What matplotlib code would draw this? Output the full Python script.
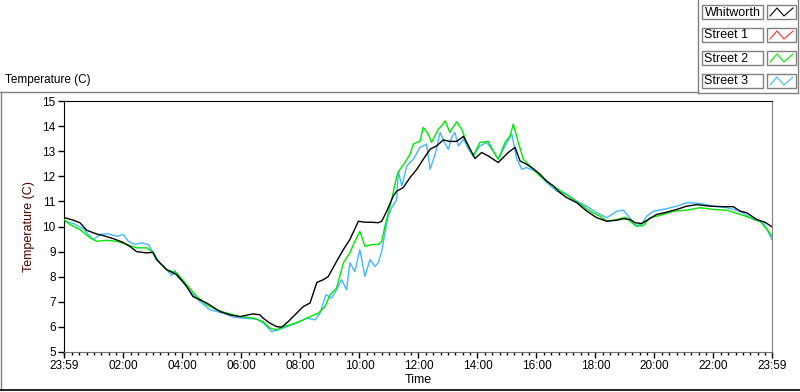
import matplotlib
matplotlib.use("Agg")
import matplotlib.pyplot as plt
from matplotlib.lines import Line2D
from matplotlib.patches import Rectangle
import numpy as np

plt.rcParams['font.family'] = ['Liberation Sans', 'DejaVu Sans']

# hours since 23:59 the day before, temperature in C
whit_h = [0, 0.32, 0.54, 0.77, 1.11, 1.32, 1.66, 2.0, 2.24, 2.46, 2.8, 3.02, 3.14, 3.48, 3.82,
          4.16, 4.37, 4.84, 5.29, 5.63, 5.97, 6.41, 6.64, 6.75, 6.98, 7.21, 7.38, 7.6, 7.83,
          8.11, 8.34, 8.57, 8.79, 8.96, 9.24, 9.47, 9.69, 9.98, 10.2, 10.43, 10.65, 10.77,
          10.94, 11.16, 11.28, 11.5, 11.73, 11.96, 12.18, 12.41, 12.63, 12.86, 13.08, 13.31,
          13.54, 13.71, 13.93, 14.16, 14.38, 14.72, 14.89, 15.06, 15.29, 15.46, 15.68, 15.91,
          16.14, 16.36, 16.59, 16.81, 17.04, 17.38, 17.72, 18.06, 18.4, 18.74, 18.96, 19.19,
          19.36, 19.58, 19.81, 20.09, 20.43, 20.77, 21.11, 21.45, 21.9, 22.35, 22.69, 22.92,
          23.14, 23.48, 23.76, 24.0]
whit_t = [10.36, 10.25, 10.15, 9.85, 9.7, 9.64, 9.52, 9.37, 9.2, 9.0, 8.95, 8.97, 8.68, 8.28,
          8.08, 7.61, 7.21, 6.95, 6.61, 6.48, 6.41, 6.52, 6.48, 6.35, 6.15, 6.01, 5.99, 6.21,
          6.48, 6.81, 6.95, 7.77, 7.88, 8.01, 8.61, 9.08, 9.48, 10.21, 10.17, 10.17, 10.15,
          10.21, 10.61, 11.21, 11.41, 11.55, 11.95, 12.28, 12.68, 13.08, 13.21, 13.45, 13.39,
          13.39, 13.59, 13.21, 12.71, 12.95, 12.81, 12.55, 12.75, 12.95, 13.15, 12.61, 12.48,
          12.3, 12.08, 11.81, 11.61, 11.35, 11.15, 10.95, 10.61, 10.35, 10.21, 10.25, 10.31,
          10.28, 10.15, 10.12, 10.28, 10.48, 10.57, 10.68, 10.81, 10.87, 10.81, 10.79, 10.79,
          10.61, 10.55, 10.28, 10.17, 9.99]

street1_h = []
street1_t = []

street2_h = [0, 0.2, 0.54, 0.88, 1.11, 1.45, 1.79, 2.13, 2.46, 2.8, 2.97, 3.14, 3.48, 3.82,
             4.16, 4.5, 4.84, 5.18, 5.52, 5.97, 6.41, 6.75, 6.98, 7.21, 7.43, 7.77, 8.11, 8.4,
             8.62, 8.85, 9.02, 9.24, 9.47, 9.69, 9.86, 10.03, 10.2, 10.43, 10.65, 10.77, 10.88,
             11.05, 11.16, 11.28, 11.39, 11.56, 11.73, 11.84, 12.07, 12.18, 12.35, 12.46, 12.69,
             12.8, 12.92, 13.08, 13.31, 13.48, 13.65, 13.87, 14.1, 14.38, 14.55, 14.72, 14.95,
             15.12, 15.23, 15.4, 15.57, 15.8, 16.14, 16.59, 16.93, 17.27, 17.6, 17.83, 18.17,
             18.4, 18.74, 19.02, 19.19, 19.41, 19.64, 19.86, 20.2, 20.65, 21.11, 21.56, 22.01,
             22.46, 22.92, 23.25, 23.59, 23.88, 24.0]
street2_t = [10.28, 10.08, 9.88, 9.55, 9.41, 9.45, 9.41, 9.28, 9.15, 9.15, 9.01, 8.68, 8.28,
             8.15, 7.68, 7.21, 6.88, 6.68, 6.55, 6.41, 6.35, 6.21, 5.95, 5.88, 6.01, 6.12, 6.28,
             6.44, 6.55, 6.81, 7.28, 7.55, 8.55, 8.95, 9.41, 9.81, 9.21, 9.28, 9.28, 9.41, 10.01,
             10.81, 11.35, 12.01, 12.28, 12.55, 12.88, 13.28, 13.41, 13.95, 13.68, 13.35, 13.88,
             14.01, 14.21, 13.75, 14.17, 13.88, 13.35, 12.81, 13.35, 13.39, 13.01, 12.68, 13.35,
             13.61, 14.08, 13.35, 12.68, 12.41, 12.01, 11.61, 11.35, 11.08, 10.81, 10.61, 10.41,
             10.21, 10.28, 10.37, 10.21, 10.01, 10.04, 10.35, 10.44, 10.61, 10.65, 10.75, 10.68,
             10.65, 10.48, 10.35, 10.21, 9.81, 9.61]

street3_h = [0, 0.32, 0.65, 0.99, 1.22, 1.5, 1.79, 2.01, 2.18, 2.41, 2.63, 2.86, 3.03, 3.25,
             3.48, 3.65, 3.76, 3.86, 4.04, 4.27, 4.61, 4.95, 5.4, 5.74, 6.08, 6.53, 6.76, 7.04,
             7.26, 7.55, 7.89, 8.23, 8.51, 8.68, 8.88, 9.07, 9.24, 9.41, 9.58, 9.69, 9.86, 10.03,
             10.2, 10.37, 10.54, 10.65, 10.77, 10.88, 10.99, 11.11, 11.28, 11.33, 11.45, 11.62,
             11.84, 12.07, 12.29, 12.41, 12.58, 12.75, 12.92, 13.03, 13.14, 13.25, 13.37, 13.54,
             13.71, 13.87, 14.1, 14.33, 14.5, 14.72, 14.95, 15.18, 15.35, 15.52, 15.68, 15.97,
             16.14, 16.36, 16.7, 17.04, 17.38, 17.72, 18.06, 18.4, 18.74, 18.96, 19.13, 19.36,
             19.58, 19.75, 19.98, 20.43, 20.77, 21.11, 21.56, 22.01, 22.46, 22.92, 23.37, 23.71,
             24.0]
street3_t = [10.21, 10.12, 9.91, 9.48, 9.68, 9.71, 9.61, 9.68, 9.41, 9.28, 9.35, 9.28, 8.95,
             8.55, 8.28, 8.04, 8.25, 7.98, 7.81, 7.41, 7.01, 6.68, 6.55, 6.39, 6.35, 6.31, 6.15,
             5.81, 5.88, 6.01, 6.15, 6.35, 6.28, 6.55, 7.28, 7.15, 7.48, 7.88, 7.48, 8.55, 8.21,
             9.08, 8.01, 8.68, 8.41, 8.55, 9.01, 9.75, 10.41, 10.75, 11.08, 12.21, 11.61, 12.41,
             12.68, 13.15, 13.28, 12.28, 12.88, 13.75, 13.28, 13.08, 13.55, 13.75, 13.21, 13.48,
             13.08, 12.81, 13.21, 13.35, 13.08, 12.68, 13.21, 13.68, 12.68, 12.28, 12.35, 12.21,
             12.01, 11.75, 11.41, 11.28, 11.01, 10.81, 10.55, 10.35, 10.61, 10.65, 10.41, 10.04,
             10.08, 10.41, 10.61, 10.71, 10.81, 10.95, 10.92, 10.81, 10.75, 10.61, 10.28, 10.15,
             9.48]

names = ['Whitworth', 'Street 1', 'Street 2', 'Street 3']
colors = ['#000000', '#ff3030', '#00e800', '#40b8ff']
tick_pos = [0, 2.0167, 4.0167, 6.0167, 8.0167, 10.0167, 12.0167, 14.0167, 16.0167,
            18.0167, 20.0167, 22.0167, 24]
tick_lab = ['23:59', '02:00', '04:00', '06:00', '08:00', '10:00', '12:00', '14:00', '16:00',
            '18:00', '20:00', '22:00', '23:59']

W, H = 800, 392


def px(x, y):
    return x / W, 1 - y / H


fig = plt.figure(figsize=(8, 3.92), dpi=100)
ax = fig.add_axes([64 / W, 1 - 352 / H, (772 - 64) / W, (352 - 101) / H])

ax.plot(street3_h, street3_t, color=colors[3], lw=1, zorder=2)
ax.plot(street2_h, street2_t, color=colors[2], lw=1, zorder=3)
ax.plot(street1_h, street1_t, color=colors[1], lw=1, zorder=3)
ax.plot(whit_h, whit_t, color=colors[0], lw=1, zorder=4)

ax.set_xlim(0, 24)
ax.set_ylim(5, 15)
ax.set_yticks(range(5, 16))
ax.set_xticks(tick_pos)
ax.set_xticklabels(tick_lab)
ax.set_xticks(np.arange(0.0167, 24, 0.25), minor=True)
ax.tick_params(axis='both', which='major', labelsize=8.5, length=4, width=1, pad=2)
ax.tick_params(axis='x', which='minor', length=2.5, width=1)
ax.spines['top'].set_color('black')
ax.spines['left'].set_color('black')
ax.spines['right'].set_color('#808080')
ax.spines['bottom'].set_color('#707070')
ax.set_ylabel('Temperature (C)', fontsize=9, color='#500000', labelpad=5)
ax.set_xlabel('Time', fontsize=9, labelpad=1)

# outer frame like the LabVIEW panel
gray = '#808080'
frame = [((0, 92), (698, 92)), ((1, 92), (1, 390)), ((698, 0), (698, 93)),
         ((698, 93), (798, 93)), ((798, 0), (798, 93))]
for (x0, y0), (x1, y1) in frame:
    a, b = px(x0, y0)
    c, d = px(x1, y1)
    fig.add_artist(Line2D([a, c], [b, d], color=gray, lw=1))
a, b = px(0, 390)
c, d = px(800, 390)
fig.add_artist(Line2D([a, c], [b, d], color='black', lw=1.2))

x0, y0 = px(5, 80)
fig.text(x0, y0, 'Temperature (C)', fontsize=8.5, va='center', ha='left')

# legend
tops = [5, 28, 51, 74]
for i, name in enumerate(names):
    t = tops[i]
    bx, by = px(702, t + 14)
    fig.add_artist(Rectangle((bx, by), 61 / W, 14 / H, transform=fig.transFigure,
                             facecolor='white', edgecolor=gray, lw=1))
    tx, ty = px(704.5, t + 7.5)
    fig.text(tx, ty, name, fontsize=9, va='center', ha='left')
    sx, sy = px(767, t + 14)
    fig.add_artist(Rectangle((sx, sy), 29 / W, 14 / H, transform=fig.transFigure,
                             facecolor='white', edgecolor=gray, lw=1))
    zx = [770, 777, 784, 793]
    zy = [t + 11, t + 3, t + 11, t + 3]
    pts = [px(u, v) for u, v in zip(zx, zy)]
    fig.add_artist(Line2D([p[0] for p in pts], [p[1] for p in pts], color=colors[i], lw=0.8))

fig.savefig('out.png', dpi=100)
